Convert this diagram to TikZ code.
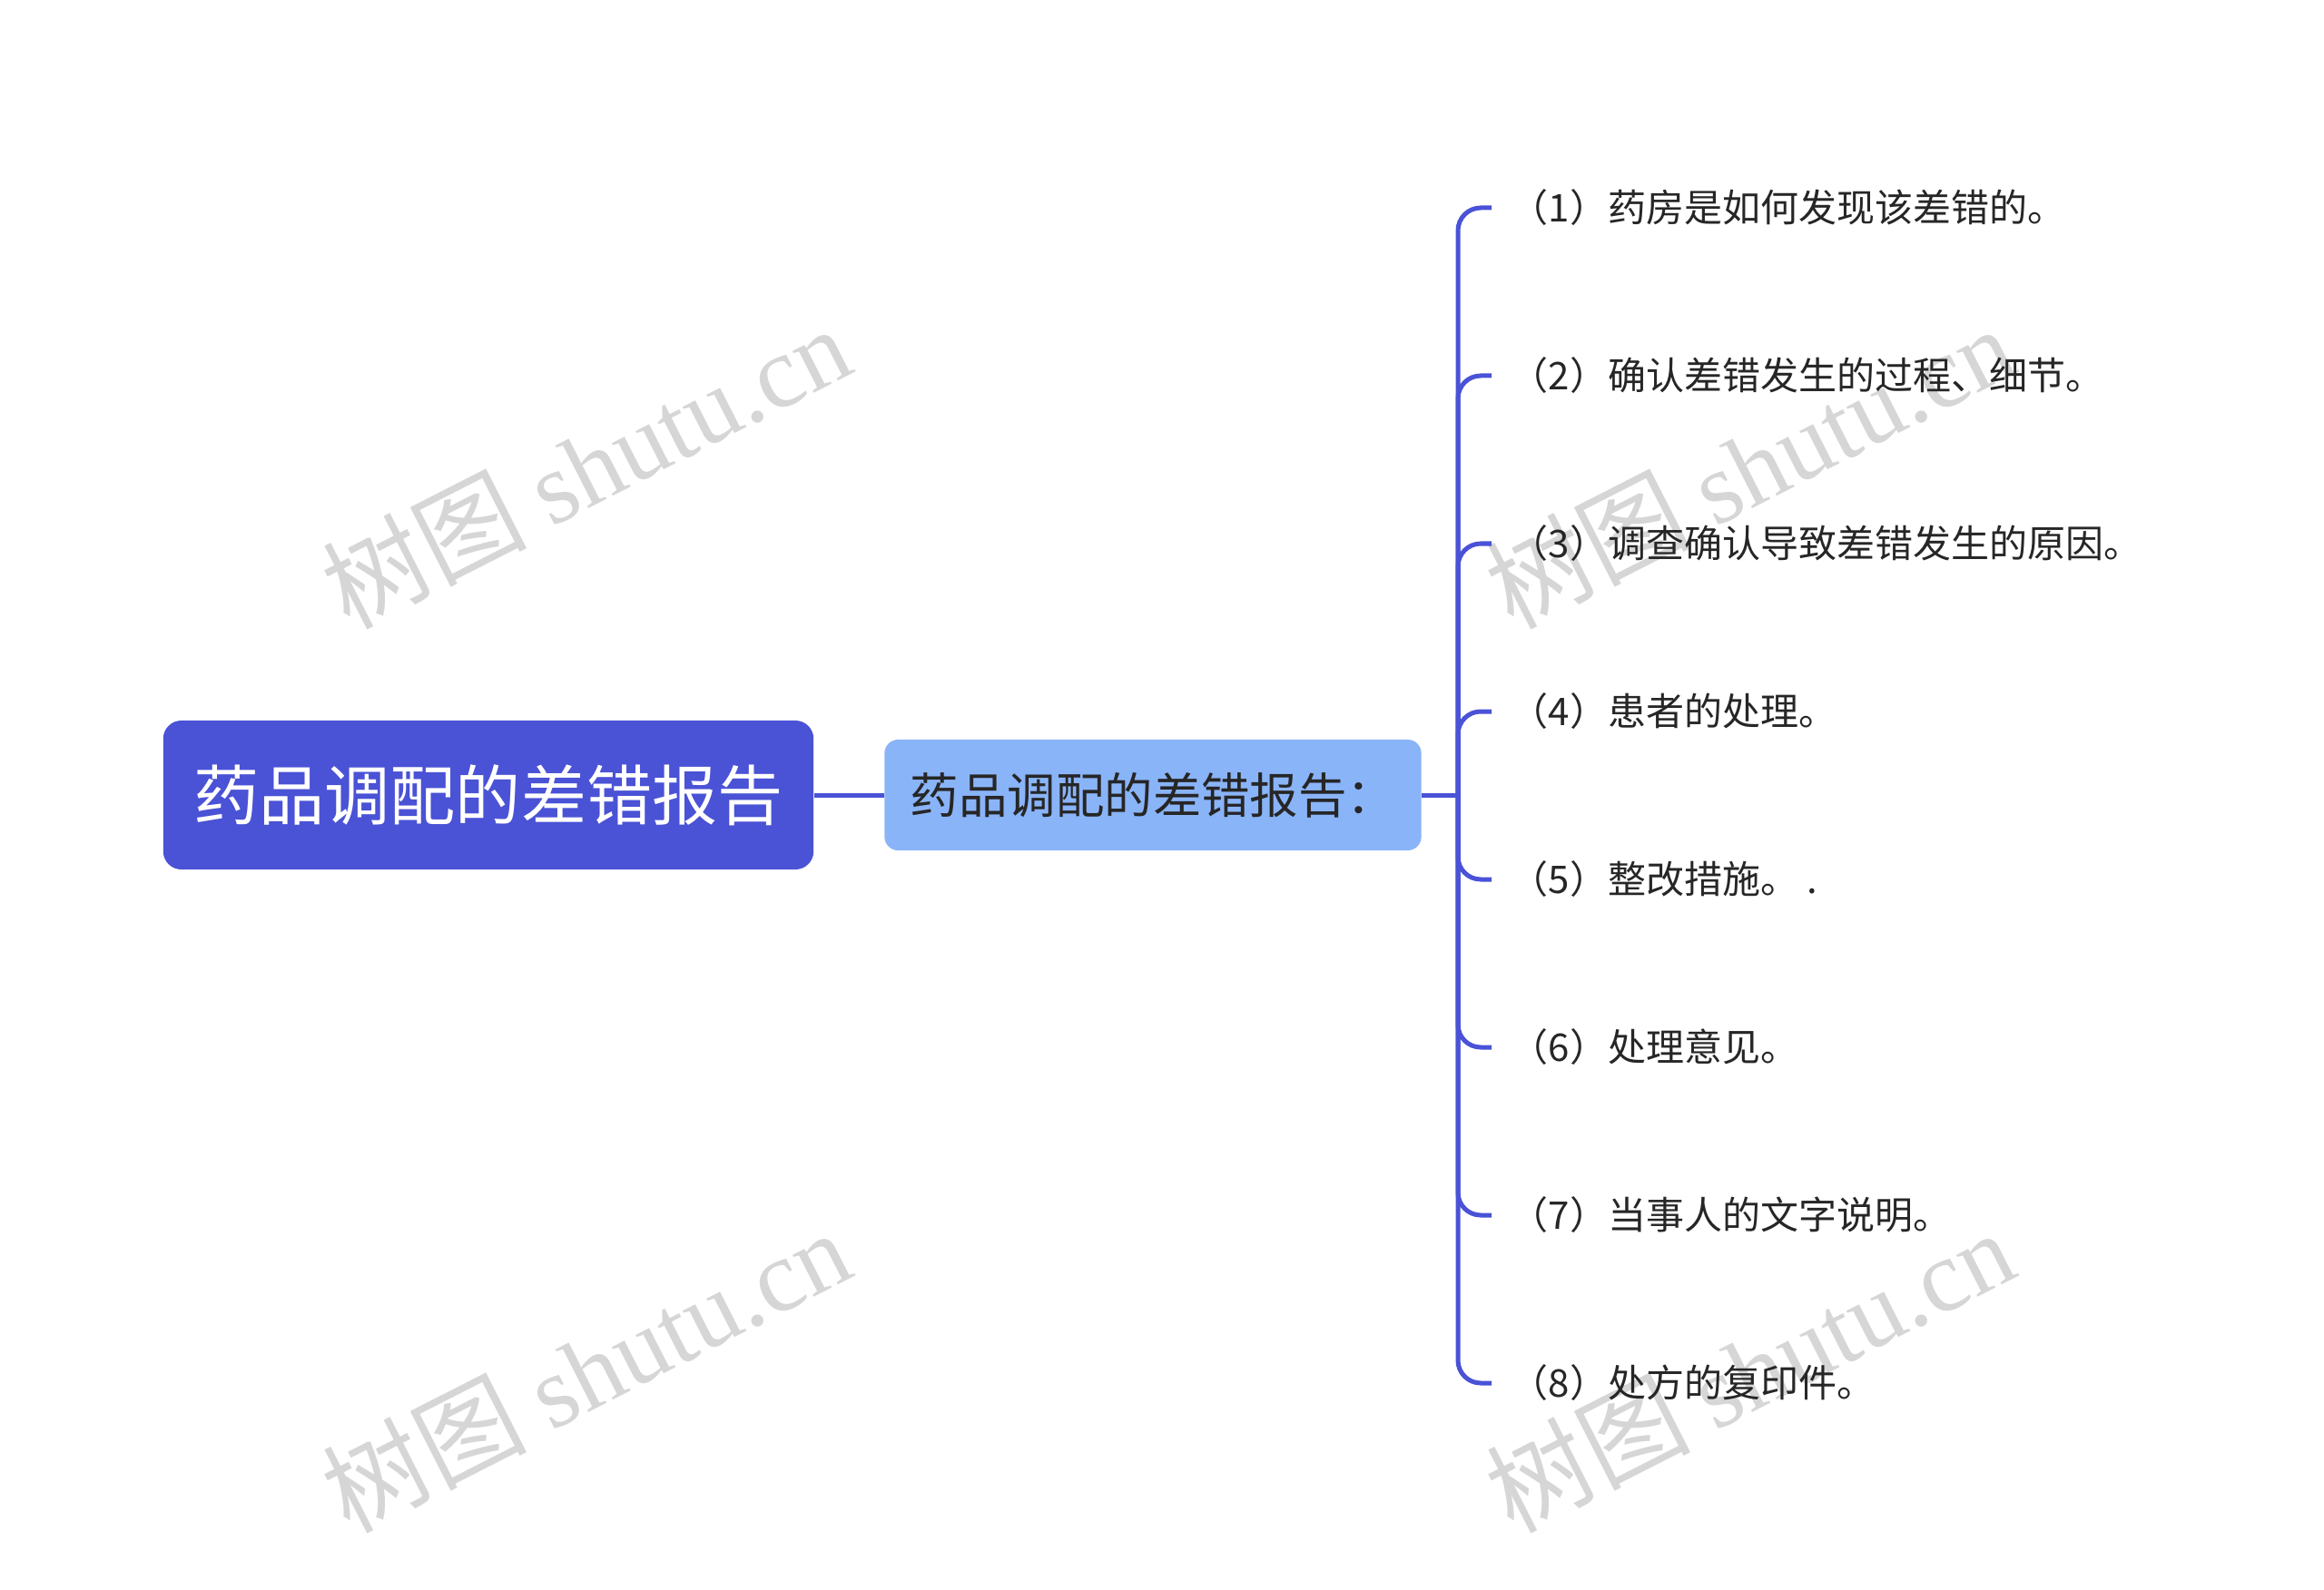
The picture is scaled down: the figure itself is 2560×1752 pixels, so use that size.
\documentclass[tikz,border=0pt]{standalone}
\usepackage{fontspec}
\setmainfont{Noto Sans CJK SC}
\newfontfamily\wmlatin{Liberation Serif}
\definecolor{topicblue}{RGB}{74,82,214}
\definecolor{subblue}{RGB}{138,180,248}
\definecolor{inkgray}{RGB}{38,38,38}
\definecolor{wmgray}{RGB}{214,214,214}
\begin{document}
\begin{tikzpicture}[x=0.01cm,y=-0.01cm,
  wm/.style={text=wmgray,rotate=27,font=\fontsize{32}{32}\selectfont},
  rootbox/.style={fill=topicblue,rounded corners=0.2cm,minimum width=7.16cm,minimum height=1.64cm,text=white,font=\fontsize{20.5}{24}\selectfont},
  subbox/.style={fill=subblue,rounded corners=0.15cm,minimum width=5.91cm,minimum height=1.22cm,text=inkgray,font=\fontsize{15.2}{18}\selectfont},
  item/.style={anchor=west,inner sep=0pt,text=inkgray,font=\fontsize{11.95}{14}\selectfont},
  branch/.style={draw=topicblue,line width=0.05cm},
  twig/.style={branch,rounded corners=0.25cm,shorten >=0.2cm}]
\useasboundingbox (0,0) rectangle (2560,1752);
\coordinate (R) at (538,876);
\coordinate (S) at (1270,876);
\coordinate (J) at (1606,876);
\coordinate (I1) at (1663,229);
\coordinate (I2) at (1663,414);
\coordinate (I3) at (1663,599);
\coordinate (I4) at (1663,784);
\coordinate (I5) at (1663,969);
\coordinate (I6) at (1663,1154);
\coordinate (I7) at (1663,1339);
\coordinate (I8) at (1663,1524);
% watermarks
\node[wm] (wm1) at (645,514) {树图 {\wmlatin shutu.cn}};
\node[wm] (wm2) at (645,1510) {树图 {\wmlatin shutu.cn}};
\node[wm] (wm3) at (1927,514) {树图 {\wmlatin shutu.cn}};
\node[wm] (wm4) at (1927,1510) {树图 {\wmlatin shutu.cn}};
% topics
\node[rootbox] (root) at (R) {药品调配的差错报告};
\node[subbox] (sub) at (S) {药品调配的差错报告：};
\draw[branch] (root) -- (sub);
\draw[branch] (sub) -- (J);
\node[item] (i1) at (I1) {（1）药房是如何发现该差错的。};
\node[item] (i2) at (I2) {（2）确认差错发生的过程、细节。};
\node[item] (i3) at (I3) {（3）调查确认导致差错发生的原因。};
\node[item] (i4) at (I4) {（4）患者的处理。};
\node[item] (i5) at (I5) {（5）整改措施。 .};
\node[item] (i6) at (I6) {（6）处理意见。};
\node[item] (i7) at (I7) {（7）当事人的文字说明。};
\node[item] (i8) at (I8) {（8）处方的复印件。};
\foreach \k in {1,...,8}
  \draw[twig] (J) |- (i\k);
\end{tikzpicture}
\end{document}
